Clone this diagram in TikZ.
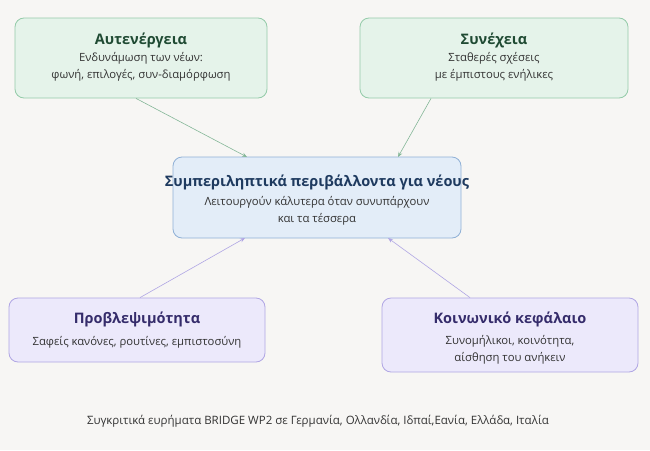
\documentclass[tikz,border=0pt]{standalone}
\usepackage{fontspec}
\setmainfont{Open Sans}
\usetikzlibrary{arrows.meta}
\definecolor{bg}{HTML}{F7F6F4}
\definecolor{gfill}{HTML}{E5F3EA}\definecolor{gdraw}{HTML}{94CBA9}\definecolor{gtext}{HTML}{1F4A33}
\definecolor{bfill}{HTML}{E3EDF8}\definecolor{bdraw}{HTML}{8FB0D6}\definecolor{btext}{HTML}{1E3A5F}
\definecolor{pfill}{HTML}{ECE9FB}\definecolor{pdraw}{HTML}{B0A6E4}\definecolor{ptext}{HTML}{352C6B}
\definecolor{body}{HTML}{333333}
\begin{document}
\begin{tikzpicture}[x=1pt,y=-1pt,
 box/.style={draw,rounded corners=9pt,line width=0.8pt,align=center,inner sep=0pt},
 ttl/.style={font=\fontsize{14.5}{17}\selectfont\bfseries},
 sub/.style={font=\fontsize{11.3}{17}\selectfont,text=body},
 arr/.style={-{Stealth[length=5pt,width=4pt]},line width=0.6pt}]
\fill[bg] (0,0) rectangle (650,450);
\useasboundingbox (0,0) rectangle (650,450);
\node[box,fill=gfill,draw=gdraw,minimum width=252pt,minimum height=80pt] (tl) at (141,58) {};
\node[ttl,text=gtext] at (141,40) {Αυτενέργεια};
\node[sub,align=center] at (141,67) {Ενδυνάμωση των νέων:\\φωνή, επιλογές, συν-διαμόρφωση};
\node[box,fill=gfill,draw=gdraw,minimum width=268pt,minimum height=80pt] (tr) at (494,58) {};
\node[ttl,text=gtext] at (494,40) {Συνέχεια};
\node[sub,align=center] at (494,67) {Σταθερές σχέσεις\\με έμπιστους ενήλικες};
\node[box,fill=bfill,draw=bdraw,minimum width=288pt,minimum height=81pt] (c) at (317,197.5) {};
\node[ttl,text=btext] at (317,182) {Συμπεριληπτικά περιβάλλοντα για νέους};
\node[sub,align=center] at (317,211) {Λειτουργούν κάλυτερα όταν συνυπάρχουν\\και τα τέσσερα};
\node[box,fill=pfill,draw=pdraw,minimum width=256pt,minimum height=64pt] (bl) at (137,330) {};
\node[ttl,text=ptext] at (137,319) {Προβλεψιμότητα};
\node[sub] at (137,342) {Σαφείς κανόνες, ρουτίνες, εμπιστοσύνη};
\node[box,fill=pfill,draw=pdraw,minimum width=256pt,minimum height=74pt] (br) at (510,335) {};
\node[ttl,text=ptext] at (510,319) {Κοινωνικό κεφάλαιο};
\node[sub,align=center] at (510,350) {Συνομήλικοι, κοινότητα,\\αίσθηση του ανήκειν};
\coordinate (c1) at (247,157);\coordinate (c2) at (398,157);
\coordinate (c3) at (245,238);\coordinate (c4) at (388,238);
\draw[arr,draw=gdraw!90!black] (tl.south)++(-5,0) -- (c1);
\draw[arr,draw=gdraw!90!black] (tr.south)++(-63,0) -- (c2);
\draw[arr,draw=pdraw] (bl.north)++(3,0) -- (c3);
\draw[arr,draw=pdraw] (br.north)++(-40,0) -- (c4);
\node[font=\fontsize{11.5}{13}\selectfont,text=body] (foot) at (318,421) {Συγκριτικά ευρήματα BRIDGE WP2 σε Γερμανία, Ολλανδία, Ιδπαί,Εανία, Ελλάδα, Ιταλία};
\end{tikzpicture}
\end{document}
